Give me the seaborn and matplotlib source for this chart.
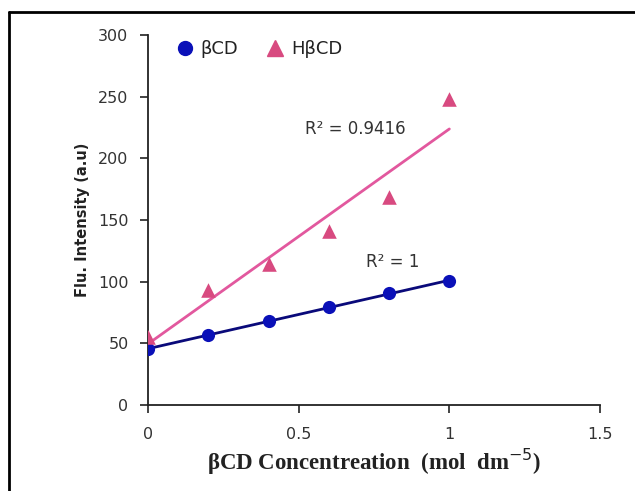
import numpy as np
import pandas as pd
import matplotlib
matplotlib.use("Agg")
import matplotlib.pyplot as plt
from matplotlib.lines import Line2D
import seaborn as sns

conc = [0, 0.2, 0.4, 0.6, 0.8, 1.0]
bcd = [45.4, 56.7, 68.0, 79.2, 90.5, 100.6]
hbcd = [55, 93, 114, 141, 169, 248]
x_ticks = [0, 0.5, 1, 1.5]
x_tick_labels = ["0", "0.5", "1", "1.5"]
y_ticks = [0, 50, 100, 150, 200, 250, 300]
series_names = ["βCD", "HβCD"]
r2_labels = ["R² = 1", "R² = 0.9416"]

sns.set_theme(style="ticks")
plt.rcParams['font.family'] = ['DejaVu Sans']

df = pd.DataFrame({"x": conc, "bcd": bcd, "hbcd": hbcd})

fig = plt.figure(figsize=(6.35, 4.91), dpi=100)
ax = fig.add_axes([148/635, 1-405/491, (600-148)/635, (405-35)/491])

blue_m, blue_l = "#0A10B8", "#0A0A7A"
pink_m, pink_l = "#D84A80", "#E2589E"

sns.regplot(data=df, x="x", y="hbcd", ax=ax, scatter=False, ci=None, truncate=True,
            line_kws=dict(color=pink_l, lw=2))
sns.regplot(data=df, x="x", y="bcd", ax=ax, scatter=False, ci=None, truncate=True,
            line_kws=dict(color=blue_l, lw=2))
sns.scatterplot(data=df, x="x", y="bcd", ax=ax, marker="o", s=90, color=blue_m,
                edgecolor=blue_m, linewidth=0, zorder=5)
sns.scatterplot(data=df, x="x", y="hbcd", ax=ax, marker="^", s=110, color=pink_m,
                edgecolor=pink_m, linewidth=0, zorder=5)

ax.set_xlim(0, 1.5)
ax.set_ylim(0, 300)
ax.set_xticks(x_ticks)
ax.set_xticklabels(x_tick_labels)
ax.set_yticks(y_ticks)
ax.tick_params(axis="both", direction="out", length=6, width=1.2, colors="#222222",
               labelcolor="#333333", labelsize=11.5)
ax.tick_params(axis="x", pad=10)
ax.tick_params(axis="y", pad=8)
for s in ["left", "bottom"]:
    ax.spines[s].set_color("#222222")
    ax.spines[s].set_linewidth(1.3)
sns.despine(ax=ax)
for sp in ["left", "bottom"]:
    ax.spines[sp].set_clip_on(False)

ax.set_ylabel("Flu. Intensity (a.u)", fontsize=10.5, fontweight="bold",
              family=["DejaVu Sans"], color="#222222", labelpad=6)
ax.set_xlabel(r"βCD Concentreation  (mol  dm$^{-5}$)", fontsize=16.5, fontweight="bold",
              family=["Liberation Serif", "DejaVu Serif"], color="#222222", labelpad=3)

ax.text(0.687, 224, r2_labels[1], fontsize=12, color="#333333", ha="center", va="center")
ax.text(0.813, 116, r2_labels[0], fontsize=12, color="#333333", ha="center", va="center")

handles = [Line2D([], [], marker="o", color=blue_m, ls="none", markersize=10),
           Line2D([], [], marker="^", color=pink_m, ls="none", markersize=11)]
ax.legend(handles, series_names, loc="upper left", bbox_to_anchor=(0.005, 1.03), ncol=2,
          frameon=False, fontsize=13, handletextpad=-0.1, columnspacing=1.0,
          labelcolor="#222222")

fig.add_artist(Line2D([9/635, 9/635], [0, 1-12/491], color="black", lw=2, transform=fig.transFigure))
fig.add_artist(Line2D([9/635, 1], [1-12/491, 1-12/491], color="black", lw=2, transform=fig.transFigure))

fig.savefig("out.png", dpi=100, facecolor="white")
